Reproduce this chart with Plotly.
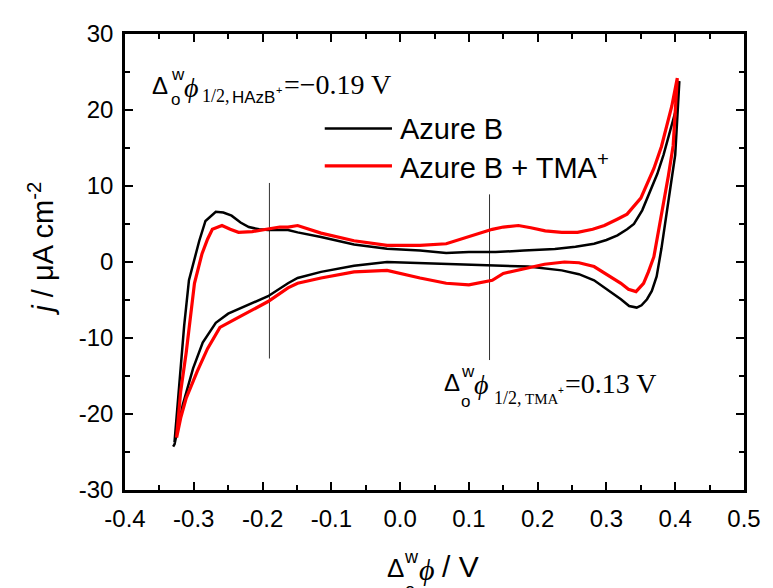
import plotly.graph_objects as go

# ---------------- data ----------------
black_fwd_x = [-0.328, -0.321, -0.314, -0.307, -0.292, -0.283, -0.275, -0.268, -0.257, -0.245,
               -0.232, -0.220, -0.205, -0.192, -0.175, -0.163, -0.149, -0.115, -0.067, -0.019,
               0.029, 0.067, 0.100, 0.139, 0.180, 0.225, 0.255, 0.282, 0.300, 0.316,
               0.330, 0.340, 0.352, 0.364, 0.374, 0.383, 0.392, 0.400, 0.406]
black_fwd_j = [-23.7, -16.2, -8.4, -2.4, 2.8, 5.4, 6.1, 6.6, 6.5, 6.1,
               5.2, 4.6, 4.3, 4.2, 4.2, 4.2, 3.9, 3.3, 2.3, 1.75,
               1.5, 1.2, 1.3, 1.3, 1.5, 1.7, 2.0, 2.4, 2.9, 3.5,
               4.3, 5.0, 6.8, 9.3, 11.6, 14.1, 17.0, 19.7, 23.8]
black_rev_x = [0.403, 0.400, 0.393, 0.387, 0.380, 0.373, 0.366, 0.359, 0.351, 0.344,
               0.333, 0.321, 0.300, 0.282, 0.260, 0.235, 0.186, 0.150, 0.124, 0.077,
               0.029, -0.019, -0.067, -0.115, -0.149, -0.163, -0.192, -0.231, -0.250, -0.268,
               -0.287, -0.301, -0.316, -0.323, -0.328, -0.330]
black_rev_j = [19.0, 14.1, 9.8, 5.9, 1.8, -1.9, -3.8, -4.9, -5.7, -6.0,
               -5.8, -4.9, -3.5, -2.4, -1.6, -1.1, -0.6, -0.5, -0.4, -0.3,
               -0.2, 0.0, -0.5, -1.3, -2.1, -2.8, -4.5, -6.0, -6.8, -8.0,
               -10.6, -14.0, -18.8, -21.8, -24.0, -24.3]

red_fwd_x = [-0.325, -0.319, -0.311, -0.305, -0.299, -0.288, -0.280, -0.273, -0.259, -0.247,
             -0.235, -0.215, -0.196, -0.175, -0.163, -0.149, -0.115, -0.067, -0.019, 0.029,
             0.067, 0.100, 0.134, 0.150, 0.172, 0.190, 0.211, 0.235, 0.258, 0.280,
             0.297, 0.315, 0.330, 0.350, 0.369, 0.380, 0.387, 0.395, 0.403]
red_fwd_j = [-23.1, -17.0, -11.9, -7.0, -2.8, 1.1, 3.0, 4.3, 4.8, 4.3,
             3.9, 4.0, 4.3, 4.6, 4.6, 4.8, 3.8, 2.8, 2.2, 2.2,
             2.4, 3.3, 4.3, 4.6, 4.8, 4.5, 4.1, 3.9, 3.9, 4.3,
             4.8, 5.6, 6.3, 8.4, 12.3, 15.2, 17.5, 20.5, 24.2]
red_rev_x = [0.400, 0.397, 0.390, 0.383, 0.376, 0.369, 0.361, 0.354, 0.343, 0.332,
             0.321, 0.300, 0.282, 0.260, 0.239, 0.210, 0.186, 0.150, 0.134, 0.100,
             0.067, 0.029, -0.019, -0.067, -0.115, -0.149, -0.163, -0.192, -0.231, -0.262,
             -0.280, -0.295, -0.311, -0.319, -0.325]
red_rev_j = [19.5, 15.3, 11.3, 7.6, 4.0, 0.7, -1.3, -2.8, -3.9, -3.6,
             -2.8, -1.6, -0.6, -0.1, 0.0, -0.3, -0.8, -1.5, -2.4, -3.0,
             -2.8, -2.1, -1.1, -1.3, -2.1, -2.8, -3.4, -5.2, -7.1, -8.6,
             -11.4, -14.4, -17.9, -20.5, -23.1]

series_names = ["Azure B", "Azure B + TMA<sup>+</sup>"]

halfwave_x = [-0.19, 0.13]
halfwave_top = [10.4, 8.9]
halfwave_bottom = [-12.7, -12.9]

x_tickvals = [-0.4, -0.3, -0.2, -0.1, 0.0, 0.1, 0.2, 0.3, 0.4, 0.5]
x_ticktext = ["-0.4", "-0.3", "-0.2", "-0.1", "0.0", "0.1", "0.2", "0.3", "0.4", "0.5"]
y_tickvals = [-30, -20, -10, 0, 10, 20, 30]
y_ticktext = ["-30", "-20", "-10", "0", "10", "20", "30"]

# ---------------- figure ----------------
# the page body has an 8px margin, so the figure is drawn 8px smaller
OFF = 8
W, H = 773 - OFF, 588 - OFF
L, T = 125 - OFF, 27 - OFF
R = W - (751 - OFF)
B = H - (490 - OFF)
PW, PH = W - L - R, H - T - B

def px(xp):
    return (xp - OFF - L) / PW

def py(yp):
    return (H - B - (yp - OFF)) / PH

fig = go.Figure()

for i in range(2):
    fig.add_trace(go.Scatter(x=[halfwave_x[i], halfwave_x[i]],
                             y=[halfwave_bottom[i], halfwave_top[i]],
                             mode="lines", line=dict(color="#333333", width=1),
                             showlegend=False, hoverinfo="skip"))

fig.add_trace(go.Scatter(x=black_fwd_x + black_rev_x, y=black_fwd_j + black_rev_j,
                         mode="lines", name=series_names[0],
                         line=dict(color="black", width=2.5), showlegend=False))
fig.add_trace(go.Scatter(x=red_fwd_x + red_rev_x, y=red_fwd_j + red_rev_j,
                         mode="lines", name=series_names[1],
                         line=dict(color="#ff0000", width=3.2), showlegend=False))

axis_common = dict(showline=True, linecolor="black", linewidth=2.5, mirror="allticks",
                   ticks="inside", ticklen=8, tickwidth=2, tickcolor="black",
                   showgrid=False, zeroline=False,
                   tickfont=dict(family="Arial, Liberation Sans", size=24, color="black"))

fig.update_xaxes(range=[-0.4, 0.5], tickvals=x_tickvals, ticktext=x_ticktext,
                 minor=dict(ticks="inside", ticklen=5, tickwidth=2, dtick=0.05,
                            tick0=-0.4, tickcolor="black"),
                 ticklabelstandoff=5, **axis_common)
fig.update_yaxes(range=[-30, 30], tickvals=y_tickvals, ticktext=y_ticktext,
                 minor=dict(ticks="inside", ticklen=5, tickwidth=2, dtick=5,
                            tick0=-30, tickcolor="black"),
                 ticklabelstandoff=4, **axis_common)

SANS = "Arial, Liberation Sans"
SERIF = "Times New Roman, Liberation Serif"
PHI = "\u03d5"
anns = []

def txt(text, xp, yp, size, family=SANS, italic=False, angle=0, xanchor="left"):
    anns.append(dict(text=text, x=px(xp), y=py(yp), xref="paper", yref="paper",
                     xanchor=xanchor, yanchor="middle", showarrow=False, textangle=angle,
                     borderpad=0,
                     font=dict(family=family, size=size, color="black",
                               style="italic" if italic else "normal")))

# annotation 1 (HAzB+)
txt("Δ", 151, 79, 24)
txt("w", 171, 68, 17)
txt("o", 171, 93, 17)
txt(PHI, 184, 81, 28, SERIF, italic=True)
txt("1/2,", 202, 90, 18, SERIF)
txt("HAzB", 232, 91, 17)
txt("+", 277, 84, 11)
txt("=−0.19 V", 285, 78, 28, SERIF)

# annotation 2 (TMA+)
txt("Δ", 447, 381, 24)
txt("w", 464, 370, 17)
txt("o", 464, 400, 17)
txt(PHI, 477, 383, 28, SERIF, italic=True)
txt("1/2,", 497, 397, 18, SERIF)
txt("TMA", 529, 398, 15, SERIF)
txt("+", 562, 389, 10)
txt("=0.13 V", 569, 382, 28, SERIF)

# x-axis title
txt("Δ", 389, 569, 26)
txt("w", 406, 558, 18)
txt("o", 407, 592, 18)
txt(PHI, 421, 571, 30, SERIF, italic=True)
txt("/ V", 445, 568, 30)

# y-axis title
txt("<i>j</i> / μA cm<sup>-2</sup>", 40, 245, 29, angle=-90, xanchor="center")

# legend (manual)
legend_colors = ["black", "#ff0000"]
legend_widths = [2.5, 3.2]
legend_y = [123, 161]
shapes = []
for i in range(2):
    shapes.append(dict(type="line", xref="paper", yref="paper",
                       x0=px(327), x1=px(395), y0=py(legend_y[i]), y1=py(legend_y[i]),
                       line=dict(color=legend_colors[i], width=legend_widths[i])))
    txt(series_names[i], 402, legend_y[i], 29)

fig.update_layout(width=W, height=H, margin=dict(l=L, r=R, t=T, b=B),
                  paper_bgcolor="white", plot_bgcolor="white",
                  annotations=anns, shapes=shapes, showlegend=False)

fig.write_html("out.html")
